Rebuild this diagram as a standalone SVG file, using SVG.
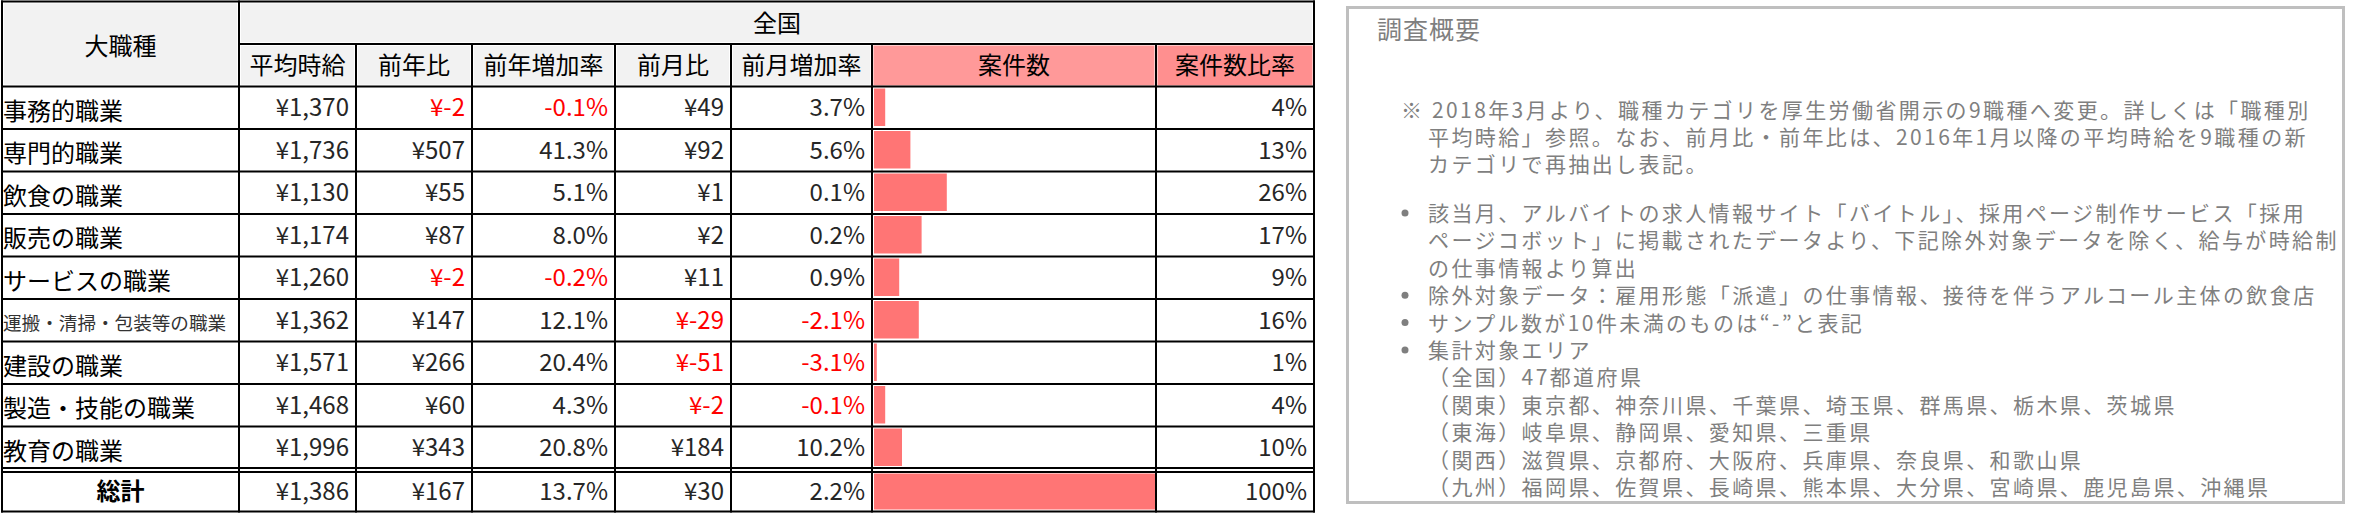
<svg xmlns="http://www.w3.org/2000/svg" width="2364" height="515" viewBox="0 0 2364 515">
<style>
text{font-family:"Noto Sans CJK JP","Noto Sans",sans-serif;}
.h{font-size:24px;fill:#000;text-anchor:middle;}
.c{font-size:24px;fill:#000;}
.n{font-size:24px;fill:#262626;text-anchor:end;}
.r{fill:#ff0000;}
.hb{font-weight:bold;}
.g{fill:#f2f2f2;}
.bar{fill:#ff7575;}
.grid line{stroke:#000;stroke-width:2;}
.p{font-size:21px;letter-spacing:2.4px;fill:#7f7f7f;}
.t{font-size:25px;letter-spacing:1px;fill:#7f7f7f;}
.dot{fill:#7f7f7f;}
</style>
<rect width="2364" height="515" fill="#fff"/>
<g id="table">
<g id="header-fills">
<rect class="g" x="4" y="3.5" width="233" height="81"/>
<rect class="g" x="241" y="3.5" width="1071" height="38.5"/>
<rect class="g" x="241" y="46" width="113" height="38.5"/>
<rect class="g" x="358" y="46" width="112" height="38.5"/>
<rect class="g" x="474" y="46" width="139" height="38.5"/>
<rect class="g" x="617" y="46" width="112" height="38.5"/>
<rect class="g" x="733" y="46" width="137" height="38.5"/>
<rect x="873.5" y="45.5" width="281" height="40" fill="#ff9999"/>
<rect x="1157.5" y="45.5" width="155" height="40" fill="#ff8f8f"/>
</g>
<g id="bars">
<rect class="bar" x="874" y="88.5" width="11.2" height="37.5"/>
<rect class="bar" x="874" y="131" width="36.4" height="37.5"/>
<rect class="bar" x="874" y="173.5" width="72.8" height="37.5"/>
<rect class="bar" x="874" y="216" width="47.6" height="37.5"/>
<rect class="bar" x="874" y="258.5" width="25.2" height="37.5"/>
<rect class="bar" x="874" y="301" width="44.8" height="37.5"/>
<rect class="bar" x="874" y="343.5" width="2.8" height="37.5"/>
<rect class="bar" x="874" y="386" width="11.2" height="37.5"/>
<rect class="bar" x="874" y="428.5" width="28" height="37.5"/>
<rect class="bar" x="874" y="473.5" width="281" height="36"/>
</g>
<g class="grid" id="grid">
<line x1="1" y1="1.5" x2="1315" y2="1.5"/>
<line x1="239" y1="44" x2="1315" y2="44"/>
<line x1="1" y1="86.5" x2="1315" y2="86.5"/>
<line x1="1" y1="129" x2="1315" y2="129"/>
<line x1="1" y1="171.5" x2="1315" y2="171.5"/>
<line x1="1" y1="214" x2="1315" y2="214"/>
<line x1="1" y1="256.5" x2="1315" y2="256.5"/>
<line x1="1" y1="299" x2="1315" y2="299"/>
<line x1="1" y1="341.5" x2="1315" y2="341.5"/>
<line x1="1" y1="384" x2="1315" y2="384"/>
<line x1="1" y1="426.5" x2="1315" y2="426.5"/>
<line x1="1" y1="468" x2="1315" y2="468"/>
<line x1="1" y1="472" x2="1315" y2="472"/>
<line x1="1" y1="511.5" x2="1315" y2="511.5"/>
<line x1="2" y1="0.5" x2="2" y2="512.5"/>
<line x1="239" y1="0.5" x2="239" y2="512.5"/>
<line x1="356" y1="44" x2="356" y2="512.5"/>
<line x1="472" y1="44" x2="472" y2="512.5"/>
<line x1="615" y1="44" x2="615" y2="512.5"/>
<line x1="731" y1="44" x2="731" y2="512.5"/>
<line x1="872" y1="44" x2="872" y2="512.5"/>
<line x1="1156" y1="44" x2="1156" y2="512.5"/>
<line x1="1314" y1="0.5" x2="1314" y2="512.5"/>
</g>
<g id="header-text">
<text class="h" x="120.5" y="55">大職種</text>
<text class="h" x="777" y="32">全国</text>
<text class="h" x="297.5" y="74">平均時給</text>
<text class="h" x="414" y="74">前年比</text>
<text class="h" x="543.5" y="74">前年増加率</text>
<text class="h" x="673" y="74">前月比</text>
<text class="h" x="801.5" y="74">前月増加率</text>
<text class="h" x="1014" y="74">案件数</text>
<text class="h" x="1235" y="74">案件数比率</text>
</g>
<g id="row-1">
<text class="c" x="3" y="119.5">事務的職業</text>
<text class="n" x="349" y="116.3">¥1,370</text>
<text class="n r" x="465" y="116.3">¥-2</text>
<text class="n r" x="608" y="116.3">-0.1%</text>
<text class="n" x="724" y="116.3">¥49</text>
<text class="n" x="865" y="116.3">3.7%</text>
<text class="n" x="1307" y="116.3">4%</text>
</g>
<g id="row-2">
<text class="c" x="3" y="162">専門的職業</text>
<text class="n" x="349" y="158.8">¥1,736</text>
<text class="n" x="465" y="158.8">¥507</text>
<text class="n" x="608" y="158.8">41.3%</text>
<text class="n" x="724" y="158.8">¥92</text>
<text class="n" x="865" y="158.8">5.6%</text>
<text class="n" x="1307" y="158.8">13%</text>
</g>
<g id="row-3">
<text class="c" x="3" y="204.5">飲食の職業</text>
<text class="n" x="349" y="201.3">¥1,130</text>
<text class="n" x="465" y="201.3">¥55</text>
<text class="n" x="608" y="201.3">5.1%</text>
<text class="n" x="724" y="201.3">¥1</text>
<text class="n" x="865" y="201.3">0.1%</text>
<text class="n" x="1307" y="201.3">26%</text>
</g>
<g id="row-4">
<text class="c" x="3" y="247">販売の職業</text>
<text class="n" x="349" y="243.8">¥1,174</text>
<text class="n" x="465" y="243.8">¥87</text>
<text class="n" x="608" y="243.8">8.0%</text>
<text class="n" x="724" y="243.8">¥2</text>
<text class="n" x="865" y="243.8">0.2%</text>
<text class="n" x="1307" y="243.8">17%</text>
</g>
<g id="row-5">
<text class="c" x="3" y="289.5">サービスの職業</text>
<text class="n" x="349" y="286.3">¥1,260</text>
<text class="n r" x="465" y="286.3">¥-2</text>
<text class="n r" x="608" y="286.3">-0.2%</text>
<text class="n" x="724" y="286.3">¥11</text>
<text class="n" x="865" y="286.3">0.9%</text>
<text class="n" x="1307" y="286.3">9%</text>
</g>
<g id="row-6">
<text class="c" x="3" y="329.5" style="font-size:18.6px;fill:#333">運搬・清掃・包装等の職業</text>
<text class="n" x="349" y="328.8">¥1,362</text>
<text class="n" x="465" y="328.8">¥147</text>
<text class="n" x="608" y="328.8">12.1%</text>
<text class="n r" x="724" y="328.8">¥-29</text>
<text class="n r" x="865" y="328.8">-2.1%</text>
<text class="n" x="1307" y="328.8">16%</text>
</g>
<g id="row-7">
<text class="c" x="3" y="374.5">建設の職業</text>
<text class="n" x="349" y="371.3">¥1,571</text>
<text class="n" x="465" y="371.3">¥266</text>
<text class="n" x="608" y="371.3">20.4%</text>
<text class="n r" x="724" y="371.3">¥-51</text>
<text class="n r" x="865" y="371.3">-3.1%</text>
<text class="n" x="1307" y="371.3">1%</text>
</g>
<g id="row-8">
<text class="c" x="3" y="417">製造・技能の職業</text>
<text class="n" x="349" y="413.8">¥1,468</text>
<text class="n" x="465" y="413.8">¥60</text>
<text class="n" x="608" y="413.8">4.3%</text>
<text class="n r" x="724" y="413.8">¥-2</text>
<text class="n r" x="865" y="413.8">-0.1%</text>
<text class="n" x="1307" y="413.8">4%</text>
</g>
<g id="row-9">
<text class="c" x="3" y="459.5">教育の職業</text>
<text class="n" x="349" y="456.3">¥1,996</text>
<text class="n" x="465" y="456.3">¥343</text>
<text class="n" x="608" y="456.3">20.8%</text>
<text class="n" x="724" y="456.3">¥184</text>
<text class="n" x="865" y="456.3">10.2%</text>
<text class="n" x="1307" y="456.3">10%</text>
</g>
<g id="row-total">
<text class="h hb" x="120.5" y="500">総計</text>
<text class="n" x="349" y="500">¥1,386</text>
<text class="n" x="465" y="500">¥167</text>
<text class="n" x="608" y="500">13.7%</text>
<text class="n" x="724" y="500">¥30</text>
<text class="n" x="865" y="500">2.2%</text>
<text class="n" x="1307" y="500">100%</text>
</g>
</g>
<g id="summary-panel">
<rect x="1347.5" y="7.5" width="996" height="495" fill="#fff" stroke="#bfbfbf" stroke-width="3"/>
<text class="t" x="1377" y="38.5">調査概要</text>
<text class="p" x="1401" y="118">※</text>
<text class="p" x="1432" y="118">2018年3月より、職種カテゴリを厚生労働省開示の9職種へ変更。詳しくは「職種別</text>
<text class="p" x="1428" y="145">平均時給」参照。なお、前月比・前年比は、2016年1月以降の平均時給を9職種の新</text>
<text class="p" x="1428" y="172">カテゴリで再抽出し表記。</text>
<circle class="dot" cx="1405" cy="213" r="3.5"/>
<text class="p" x="1428" y="221">該当月、アルバイトの求人情報サイト「バイトル」、採用ページ制作サービス「採用</text>
<text class="p" x="1428" y="248.4">ページコボット」に掲載されたデータより、下記除外対象データを除く、給与が時給制</text>
<text class="p" x="1428" y="275.8">の仕事情報より算出</text>
<circle class="dot" cx="1405" cy="295.2" r="3.5"/>
<text class="p" x="1428" y="303.2">除外対象データ：雇用形態「派遣」の仕事情報、接待を伴うアルコール主体の飲食店</text>
<circle class="dot" cx="1405" cy="322.6" r="3.5"/>
<text class="p" x="1428" y="330.6">サンプル数が10件未満のものは“-”と表記</text>
<circle class="dot" cx="1405" cy="350" r="3.5"/>
<text class="p" x="1428" y="358">集計対象エリア</text>
<text class="p" x="1428" y="385.4">（全国）47都道府県</text>
<text class="p" x="1428" y="412.8">（関東）東京都、神奈川県、千葉県、埼玉県、群馬県、栃木県、茨城県</text>
<text class="p" x="1428" y="440.2">（東海）岐阜県、静岡県、愛知県、三重県</text>
<text class="p" x="1428" y="467.6">（関西）滋賀県、京都府、大阪府、兵庫県、奈良県、和歌山県</text>
<text class="p" x="1428" y="495">（九州）福岡県、佐賀県、長崎県、熊本県、大分県、宮崎県、鹿児島県、沖縄県</text>
</g>
</svg>
